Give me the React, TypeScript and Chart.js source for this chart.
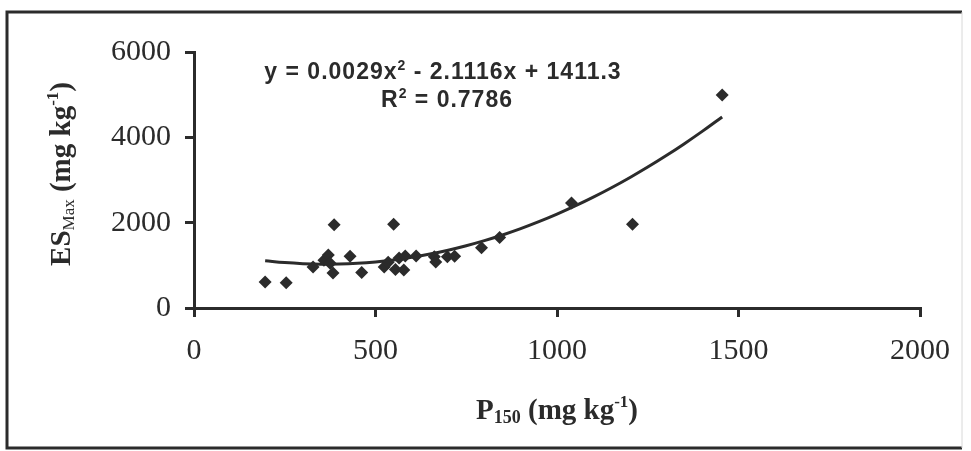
import React, { useEffect, useRef } from 'react';
import { Chart, registerables } from 'chart.js';

Chart.register(...registerables);

// Measured data: P150 (mg/kg) vs ESMax (mg/kg)
const P150 = [196, 254, 328, 358, 370, 375, 383, 386, 430, 462, 524, 535, 550, 555, 565, 578, 582, 612, 662, 666, 698, 718, 792, 842, 1040, 1208, 1455];
const ES_MAX = [610, 590, 960, 1120, 1240, 1050, 820, 1950, 1210, 830, 960, 1070, 1960, 900, 1170, 890, 1220, 1220, 1200, 1080, 1200, 1210, 1410, 1650, 2460, 1960, 4990];

// Polynomial trendline as printed on the chart: y = 0.0029x^2 - 2.1116x + 1411.3
const TREND_COEFFS = [1411.3, -2.1116, 0.0029];
const TREND_X = [196, 250, 300, 350, 400, 450, 500, 550, 600, 650, 700, 750, 800, 850, 900, 950, 1000, 1050, 1100, 1150, 1200, 1250, 1300, 1350, 1400, 1455];

const X_TICKS = [0, 500, 1000, 1500, 2000];
const Y_TICKS = [0, 2000, 4000, 6000];

const EQ_TEXT = ['y = 0.0029x', '2', ' - 2.1116x + 1411.3'];
const R2_TEXT = ['R', '2', ' = 0.7786'];

const INK = '#2b2b2b';
const SERIF = '"Liberation Serif", "Times New Roman", serif';
const SANS = '"Liberation Sans", Arial, sans-serif';

type Run = { t: string; font: string; dy: number };

function drawRuns(ctx: CanvasRenderingContext2D, runs: Run[], cx: number, cy: number) {
  let total = 0;
  const widths = runs.map((r) => {
    ctx.font = r.font;
    const w = ctx.measureText(r.t).width;
    total += w;
    return w;
  });
  let x = cx - total / 2;
  runs.forEach((r, i) => {
    ctx.font = r.font;
    ctx.fillText(r.t, x, cy + r.dy);
    x += widths[i];
  });
}

const overlayPlugin = {
  id: 'overlay',
  beforeDraw(chart: any) {
    const ctx = chart.ctx as CanvasRenderingContext2D;
    ctx.save();
    ctx.fillStyle = '#ffffff';
    ctx.fillRect(0, 0, chart.width, chart.height);
    // frame
    ctx.strokeStyle = INK;
    ctx.lineWidth = 3;
    ctx.beginPath();
    ctx.moveTo(962, 12);
    ctx.lineTo(7, 12);
    ctx.lineTo(7, 448);
    ctx.lineTo(962, 448);
    ctx.stroke();
    ctx.strokeStyle = '#d8d8d8';
    ctx.lineWidth = 1;
    ctx.beginPath();
    ctx.moveTo(962, 12);
    ctx.lineTo(962, 448);
    ctx.stroke();
    ctx.restore();
  },
  afterDraw(chart: any) {
    const ctx = chart.ctx as CanvasRenderingContext2D;
    const area = chart.chartArea;
    const xs = chart.scales.x;
    ctx.save();
    ctx.fillStyle = INK;
    ctx.textBaseline = 'alphabetic';
    ctx.textAlign = 'left';

    // equation
    const eqFont = `bold 23px ${SANS}`;
    const supFont = `bold 14px ${SANS}`;
    (ctx as any).letterSpacing = '1px';
    drawRuns(ctx, [
      { t: EQ_TEXT[0], font: eqFont, dy: 0 },
      { t: EQ_TEXT[1], font: supFont, dy: -9 },
      { t: EQ_TEXT[2], font: eqFont, dy: 0 },
    ], 443, 79);
    drawRuns(ctx, [
      { t: R2_TEXT[0], font: eqFont, dy: 0 },
      { t: R2_TEXT[1], font: supFont, dy: -9 },
      { t: R2_TEXT[2], font: eqFont, dy: 0 },
    ], 447, 107);
    (ctx as any).letterSpacing = '0px';

    const tFont = `bold 29px ${SERIF}`;
    const subFont = `17px ${SERIF}`;
    const subBold = `bold 18px ${SERIF}`;
    const supSerif = `bold 17px ${SERIF}`;

    // x title
    const xc = (xs.left + xs.right) / 2;
    drawRuns(ctx, [
      { t: 'P', font: tFont, dy: 0 },
      { t: '150', font: subBold, dy: 4 },
      { t: ' (mg kg', font: tFont, dy: 0 },
      { t: '-1', font: supSerif, dy: -12 },
      { t: ')', font: tFont, dy: 0 },
    ], xc, 419);

    // y title
    ctx.translate(70, (area.top + area.bottom) / 2 - 6);
    ctx.rotate(-Math.PI / 2);
    drawRuns(ctx, [
      { t: 'ES', font: tFont, dy: 0 },
      { t: 'Max', font: subFont, dy: 4 },
      { t: ' (mg kg', font: tFont, dy: 0 },
      { t: '-1', font: supSerif, dy: -12 },
      { t: ')', font: tFont, dy: 0 },
    ], 0, 0);
    ctx.restore();
  },
};

export default function App() {
  const ref = useRef<HTMLCanvasElement | null>(null);

  useEffect(() => {
    document.body.style.margin = '0';
    const canvas = ref.current;
    if (!canvas) return;
    const trend = TREND_X.map((x) => ({
      x,
      y: TREND_COEFFS[0] + TREND_COEFFS[1] * x + TREND_COEFFS[2] * x * x,
    }));
    const chart = new Chart(canvas, {
      type: 'scatter',
      data: {
        datasets: [
          {
            type: 'line',
            label: 'Poly. trend',
            data: trend,
            borderColor: INK,
            borderWidth: 3,
            pointRadius: 0,
            tension: 0.4,
            fill: false,
            order: 2,
          } as any,
          {
            label: 'ESMax',
            data: P150.map((x, i) => ({ x, y: ES_MAX[i] })),
            pointStyle: 'rectRot',
            pointRadius: 6.5,
            backgroundColor: INK,
            borderColor: INK,
            borderWidth: 0,
            order: 1,
          },
        ],
      },
      options: {
        animation: false,
        responsive: false,
        maintainAspectRatio: false,
        layout: { padding: { left: 0, right: 51, top: 52, bottom: 0 } },
        plugins: {
          legend: { display: false },
          tooltip: { enabled: false },
        },
        scales: {
          x: {
            type: 'linear',
            min: 0,
            max: 2000,
            afterBuildTicks: (s: any) => {
              s.ticks = X_TICKS.map((v) => ({ value: v }));
            },
            afterFit: (s: any) => {
              s.height = 143;
            },
            grid: { drawOnChartArea: false, drawTicks: true, tickLength: 9, lineWidth: 3, color: INK },
            border: { color: INK, width: 3 },
            ticks: {
              font: { family: SERIF, size: 30 },
              color: INK,
              padding: 16,
              maxRotation: 0,
              callback: (v: any) => String(v),
            },
          },
          y: {
            type: 'linear',
            min: 0,
            max: 6000,
            afterBuildTicks: (s: any) => {
              s.ticks = Y_TICKS.map((v) => ({ value: v }));
            },
            afterFit: (s: any) => {
              s.width = 194;
            },
            grid: { drawOnChartArea: false, drawTicks: true, tickLength: 9, lineWidth: 3, color: INK },
            border: { color: INK, width: 3 },
            ticks: {
              font: { family: SERIF, size: 30 },
              color: INK,
              padding: 14,
              callback: (v: any) => String(v),
            },
          },
        },
      },
      plugins: [overlayPlugin],
    });
    return () => chart.destroy();
  }, []);

  return (
    <div style={{ width: 971, height: 451 }}>
      <canvas ref={ref} width={971} height={451} style={{ display: 'block' }} />
    </div>
  );
}
